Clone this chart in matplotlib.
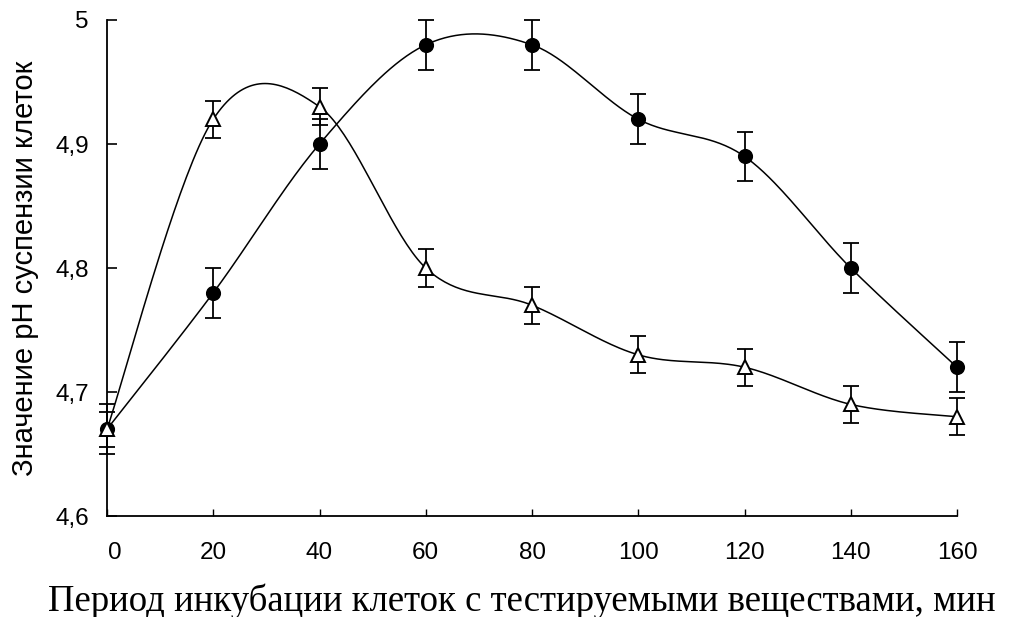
import numpy as np
import matplotlib
matplotlib.use("Agg")
import matplotlib.pyplot as plt
from matplotlib.transforms import ScaledTranslation

# Время инкубации, мин
minutes = [0, 20, 40, 60, 80, 100, 120, 140, 160]

# pH суспензии: закрашенные кружки
ph_circle = [4.67, 4.78, 4.90, 4.98, 4.98, 4.92, 4.89, 4.80, 4.72]
err_circle = [0.02, 0.02, 0.02, 0.02, 0.02, 0.02, 0.02, 0.02, 0.02]

# pH суспензии: открытые треугольники
ph_tri = [4.67, 4.92, 4.93, 4.80, 4.77, 4.73, 4.72, 4.69, 4.68]
err_tri = [0.014, 0.015, 0.015, 0.015, 0.015, 0.015, 0.015, 0.015, 0.015]

x_ticks = [0, 20, 40, 60, 80, 100, 120, 140, 160]
y_ticks = [4.6, 4.7, 4.8, 4.9, 5.0]
y_ticklabels = ["4,6", "4,7", "4,8", "4,9", "5"]


def smooth(x, y, n=40):
    """Сглаженная линия через точки (кубические Безье, как в Excel)."""
    p = np.column_stack([x, y]).astype(float)
    pts = [p[0]]
    for i in range(len(p) - 1):
        p0 = p[i - 1] if i > 0 else p[i]
        p1, p2 = p[i], p[i + 1]
        p3 = p[i + 2] if i + 2 < len(p) else p[i + 1]
        c1 = p1 + (p2 - p0) / 6.0
        c2 = p2 - (p3 - p1) / 6.0
        t = np.linspace(0, 1, n)[1:, None]
        seg = ((1 - t) ** 3 * p1 + 3 * (1 - t) ** 2 * t * c1
               + 3 * (1 - t) * t ** 2 * c2 + t ** 3 * p2)
        pts.extend(seg)
    pts = np.array(pts)
    return pts[:, 0], pts[:, 1]


W, H = 1014, 617
fig = plt.figure(figsize=(W / 100, H / 100), dpi=100)
ax = fig.add_axes([107 / W, 1 - 516 / H, (957 - 107) / W, (516 - 20) / H])

for ys, errs, mk, fc in [(ph_circle, err_circle, "o", "black"),
                         (ph_tri, err_tri, "^", "white")]:
    sx, sy = smooth(minutes, ys)
    ax.plot(sx, sy, "-", color="black", lw=1.1, zorder=2, clip_on=False)
    ax.errorbar(minutes, ys, yerr=errs, fmt="none", ecolor="black",
                elinewidth=1.3, capsize=6, capthick=1.3, zorder=3, clip_on=False)
    ax.plot(minutes, ys, mk, ms=9.5 if mk == "o" else 10, mfc=fc,
            mec="black", mew=1.4, ls="none", zorder=4, clip_on=False)

ax.set_xlim(0, 160)
ax.set_ylim(4.6, 5.0)
ax.set_xticks(x_ticks)
ax.set_xticklabels([str(v) for v in x_ticks])
ax.set_yticks(y_ticks)
ax.set_yticklabels(y_ticklabels)

for s in ("top", "right"):
    ax.spines[s].set_visible(False)
for s in ("left", "bottom"):
    ax.spines[s].set_linewidth(1.3)

ax.tick_params(axis="y", direction="in", length=7, width=1.2, pad=13,
               labelsize=17.5)
ax.tick_params(axis="x", direction="in", length=5, width=1.0, pad=19,
               labelsize=17.5)
for lab in ax.get_xticklabels() + ax.get_yticklabels():
    lab.set_fontfamily("Liberation Sans")

# подпись «0» чуть правее оси
zero = ax.get_xticklabels()[0]
zero.set_transform(zero.get_transform() + ScaledTranslation(8 / 100, 0, fig.dpi_scale_trans))

ax.set_ylabel("Значение pH суспензии клеток", fontsize=21,
              fontfamily="Liberation Sans", labelpad=12)
fig.text(522 / W, 1 - 611 / H,
         "Период инкубации клеток с тестируемыми веществами, мин",
         ha="center", va="baseline", fontsize=26.5, fontfamily="Liberation Serif")

plt.savefig("out.png", dpi=100)
